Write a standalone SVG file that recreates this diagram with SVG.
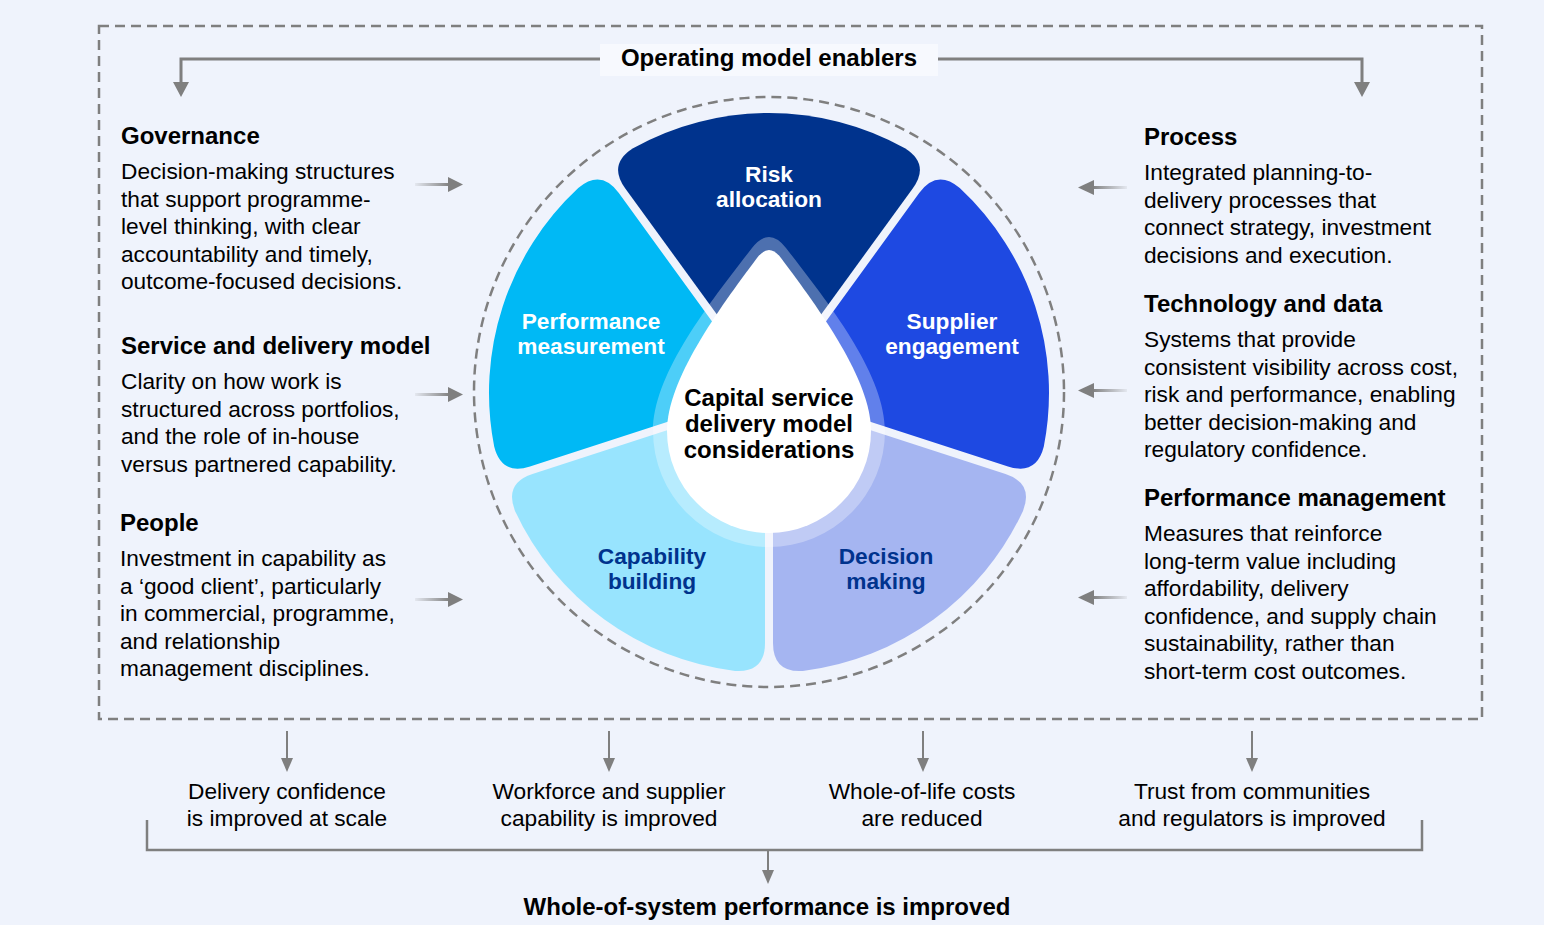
<svg xmlns="http://www.w3.org/2000/svg" width="1544" height="925" viewBox="0 0 1544 925">
<defs>
<style>
text{font-family:"Liberation Sans",Arial,sans-serif;fill:#000}
.h{font-size:24px;font-weight:bold}
.b{font-size:22.7px}
.seg{font-size:22.7px;font-weight:bold;text-anchor:middle}
.w{fill:#fff}
.n{fill:#00338D}
.c{text-anchor:middle}
.dash{fill:none;stroke:#7F7F7F;stroke-width:2.5;stroke-dasharray:10 6}
.ln{fill:none;stroke:#7F7F7F;stroke-width:3}
.ah{fill:#7F7F7F}
</style>
<linearGradient id="gR" x1="0" y1="0" x2="1" y2="0"><stop offset="0" stop-color="#7F7F7F" stop-opacity="0.1"/><stop offset="1" stop-color="#7F7F7F"/></linearGradient>
<linearGradient id="gL" x1="1" y1="0" x2="0" y2="0"><stop offset="0" stop-color="#7F7F7F" stop-opacity="0.1"/><stop offset="1" stop-color="#7F7F7F"/></linearGradient>
</defs>
<rect x="0" y="0" width="1544" height="925" fill="#EFF3FC"/>
<rect class="dash" x="99" y="26" width="1383" height="693"/>
<circle class="dash" cx="769" cy="392" r="295"/>

<g id="connectors">
<polyline class="ln" points="600,59 181,59 181,84"/>
<polygon class="ah" points="173,82 189,82 181,97"/>
<polyline class="ln" points="938,59 1362,59 1362,84"/>
<polygon class="ah" points="1354,82 1370,82 1362,97"/>
<rect x="415" y="183" width="35" height="3" fill="url(#gR)"/><polygon class="ah" points="448,177 463,184.5 448,192"/>
<rect x="415" y="393" width="35" height="3" fill="url(#gR)"/><polygon class="ah" points="448,387 463,394.5 448,402"/>
<rect x="415" y="598" width="35" height="3" fill="url(#gR)"/><polygon class="ah" points="448,592 463,599.5 448,607"/>
<rect x="1092" y="186" width="35" height="3" fill="url(#gL)"/><polygon class="ah" points="1094,180 1078,187.5 1094,195"/>
<rect x="1092" y="389" width="35" height="3" fill="url(#gL)"/><polygon class="ah" points="1094,383 1078,390.5 1094,398"/>
<rect x="1092" y="596" width="35" height="3" fill="url(#gL)"/><polygon class="ah" points="1094,590 1078,597.5 1094,605"/>
<line class="ln" style="stroke-width:2" x1="287" y1="731" x2="287" y2="760"/><polygon class="ah" points="281,758 293,758 287,772"/>
<line class="ln" style="stroke-width:2" x1="609" y1="731" x2="609" y2="760"/><polygon class="ah" points="603,758 615,758 609,772"/>
<line class="ln" style="stroke-width:2" x1="923" y1="731" x2="923" y2="760"/><polygon class="ah" points="917,758 929,758 923,772"/>
<line class="ln" style="stroke-width:2" x1="1252" y1="731" x2="1252" y2="760"/><polygon class="ah" points="1246,758 1258,758 1252,772"/>
<polyline class="ln" style="stroke-width:2.5" points="147,820 147,850 1422,850 1422,820"/>
<line class="ln" style="stroke-width:2" x1="768" y1="850" x2="768" y2="872"/><polygon class="ah" points="762,870 774,870 768,884"/>
</g>

<g id="title">
<rect x="600" y="44" width="338" height="32" fill="#F7F9FE"/>
<text class="h c" x="769" y="65.5">Operating model enablers</text>
</g>

<g id="seg-risk">
<path fill="#00338D" d="M769 386.2 L625.3 188.42 Q607.67 164.15 633.06 148.22 A280 280 0 0 1 904.94 148.22 Q930.33 164.15 912.7 188.42 Z"/>
<text class="seg w" x="769" y="182">Risk</text>
<text class="seg w" x="769" y="207">allocation</text>
</g>
<g id="seg-supplier">
<path fill="#1E49E2" d="M775.47 390.9 L919.18 193.12 Q936.81 168.85 959.76 188.04 A280 280 0 0 1 1043.82 446.62 Q1036.52 475.71 1007.99 466.44 Z"/>
<text class="seg w" x="952" y="329">Supplier</text>
<text class="seg w" x="952" y="354">engagement</text>
</g>
<g id="seg-decision">
<path fill="#A5B5F1" d="M773 398.5 L1005.52 474.04 Q1034.05 483.31 1022.85 511.16 A280 280 0 0 1 802.91 670.93 Q773 672.97 773 642.97 Z"/>
<text class="seg n" x="886" y="564">Decision</text>
<text class="seg n" x="886" y="589">making</text>
</g>
<g id="seg-capability">
<path fill="#98E4FE" d="M765 398.5 L765 642.97 Q765 672.97 735.09 670.93 A280 280 0 0 1 515.15 511.16 Q503.96 483.31 532.49 474.04 Z"/>
<text class="seg n" x="652" y="564">Capability</text>
<text class="seg n" x="652" y="589">building</text>
</g>
<g id="seg-performance">
<path fill="#00B9F5" d="M762.53 390.9 L530.01 466.44 Q501.48 475.71 494.18 446.62 A280 280 0 0 1 578.24 188.04 Q601.19 168.85 618.82 193.12 Z"/>
<text class="seg w" x="591" y="329">Performance</text>
<text class="seg w" x="591" y="354">measurement</text>
</g>

<g id="center">
<path fill="#fff" fill-opacity="0.3" d="M752 248 Q769 226 786 248 C831 306 885 375 885 431 A116 116 0 0 1 653 431 C653 375 707 306 752 248 Z"/>
<path fill="#fff" d="M757 258 Q769 242 781 258 C820 310 871 380 871 431 A102 102 0 0 1 667 431 C667 380 718 310 757 258 Z"/>
<text class="h c" x="769" y="405.5">Capital service</text>
<text class="h c" x="769" y="431.5">delivery model</text>
<text class="h c" x="769" y="457.5">considerations</text>
</g>

<g id="governance">
<text class="h" x="121" y="143.5">Governance</text>
<text class="b" x="121" y="179">Decision-making structures</text>
<text class="b" x="121" y="206.5">that support programme-</text>
<text class="b" x="121" y="234">level thinking, with clear</text>
<text class="b" x="121" y="261.5">accountability and timely,</text>
<text class="b" x="121" y="289">outcome-focused decisions.</text>
</g>
<g id="service-delivery">
<text class="h" x="121" y="353.5">Service and delivery model</text>
<text class="b" x="121" y="389">Clarity on how work is</text>
<text class="b" x="121" y="416.5">structured across portfolios,</text>
<text class="b" x="121" y="444">and the role of in-house</text>
<text class="b" x="121" y="471.5">versus partnered capability.</text>
</g>
<g id="people">
<text class="h" x="120" y="530.5">People</text>
<text class="b" x="120" y="566">Investment in capability as</text>
<text class="b" x="120" y="593.5">a ‘good client’, particularly</text>
<text class="b" x="120" y="621">in commercial, programme,</text>
<text class="b" x="120" y="648.5">and relationship</text>
<text class="b" x="120" y="676">management disciplines.</text>
</g>
<g id="process">
<text class="h" x="1144" y="144.5">Process</text>
<text class="b" x="1144" y="180">Integrated planning-to-</text>
<text class="b" x="1144" y="207.5">delivery processes that</text>
<text class="b" x="1144" y="235">connect strategy, investment</text>
<text class="b" x="1144" y="262.5">decisions and execution.</text>
</g>
<g id="technology">
<text class="h" x="1144" y="311.5">Technology and data</text>
<text class="b" x="1144" y="347">Systems that provide</text>
<text class="b" x="1144" y="374.5">consistent visibility across cost,</text>
<text class="b" x="1144" y="402">risk and performance, enabling</text>
<text class="b" x="1144" y="429.5">better decision-making and</text>
<text class="b" x="1144" y="457">regulatory confidence.</text>
</g>
<g id="performance-management">
<text class="h" x="1144" y="505.5">Performance management</text>
<text class="b" x="1144" y="541">Measures that reinforce</text>
<text class="b" x="1144" y="568.5">long-term value including</text>
<text class="b" x="1144" y="596">affordability, delivery</text>
<text class="b" x="1144" y="623.5">confidence, and supply chain</text>
<text class="b" x="1144" y="651">sustainability, rather than</text>
<text class="b" x="1144" y="678.5">short-term cost outcomes.</text>
</g>

<g id="outcome-1">
<text class="b c" x="287" y="799">Delivery confidence</text>
<text class="b c" x="287" y="826">is improved at scale</text>
</g>
<g id="outcome-2">
<text class="b c" x="609" y="799">Workforce and supplier</text>
<text class="b c" x="609" y="826">capability is improved</text>
</g>
<g id="outcome-3">
<text class="b c" x="922" y="799">Whole-of-life costs</text>
<text class="b c" x="922" y="826">are reduced</text>
</g>
<g id="outcome-4">
<text class="b c" x="1252" y="799">Trust from communities</text>
<text class="b c" x="1252" y="826">and regulators is improved</text>
</g>
<g id="result">
<text class="h c" x="767" y="915">Whole-of-system performance is improved</text>
</g>
</svg>
